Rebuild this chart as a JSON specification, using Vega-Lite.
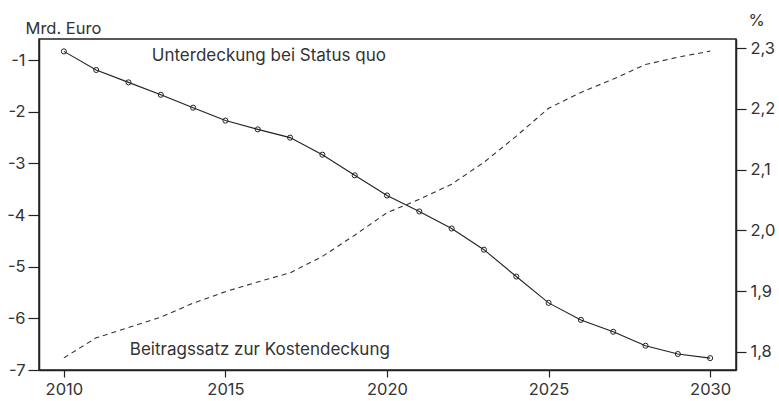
{
  "$schema": "https://vega.github.io/schema/vega-lite/v6.json",
  "autosize": "none",
  "padding": {"left": 39, "top": 39, "right": 43, "bottom": 31},
  "width": 697,
  "height": 331,
  "background": "white",
  "config": {
    "view": {"stroke": "#222", "strokeWidth": 1.5},
    "font": "Inter",
    "axis": {
      "grid": false,
      "domainColor": "#222",
      "domainWidth": 1.5,
      "tickColor": "#222",
      "tickWidth": 1.2,
      "labelColor": "#333",
      "labelFont": "Inter",
      "labelFontSize": 16.5,
      "titleFont": "Inter",
      "titleFontSize": 16.5,
      "titleFontWeight": "normal",
      "titleColor": "#333"
    }
  },
  "datasets": {
    "series": [
      {"year": 2010, "deficit": -0.83, "rate": 1.790},
      {"year": 2011, "deficit": -1.19, "rate": 1.823},
      {"year": 2012, "deficit": -1.43, "rate": 1.840},
      {"year": 2013, "deficit": -1.67, "rate": 1.857},
      {"year": 2014, "deficit": -1.92, "rate": 1.880},
      {"year": 2015, "deficit": -2.17, "rate": 1.899},
      {"year": 2016, "deficit": -2.34, "rate": 1.915},
      {"year": 2017, "deficit": -2.50, "rate": 1.930},
      {"year": 2018, "deficit": -2.83, "rate": 1.957},
      {"year": 2019, "deficit": -3.23, "rate": 1.992},
      {"year": 2020, "deficit": -3.62, "rate": 2.029},
      {"year": 2021, "deficit": -3.93, "rate": 2.051},
      {"year": 2022, "deficit": -4.26, "rate": 2.076},
      {"year": 2023, "deficit": -4.67, "rate": 2.112},
      {"year": 2024, "deficit": -5.19, "rate": 2.155},
      {"year": 2025, "deficit": -5.70, "rate": 2.201},
      {"year": 2026, "deficit": -6.03, "rate": 2.227},
      {"year": 2027, "deficit": -6.26, "rate": 2.249},
      {"year": 2028, "deficit": -6.53, "rate": 2.273},
      {"year": 2029, "deficit": -6.69, "rate": 2.285},
      {"year": 2030, "deficit": -6.77, "rate": 2.295}
    ],
    "labels": [
      {"year": 2012.72, "deficit": -0.92, "label": "Unterdeckung bei Status quo"},
      {"year": 2012.04, "deficit": -6.61, "label": "Beitragssatz zur Kostendeckung"}
    ]
  },
  "encoding": {
    "x": {
      "field": "year",
      "type": "quantitative",
      "scale": {"domain": [2009.23, 2030.8], "nice": false, "zero": false},
      "axis": {
        "title": null,
        "values": [2010, 2015, 2020, 2025, 2030],
        "format": "d",
        "tickSize": 7,
        "labelPadding": 4
      }
    }
  },
  "layer": [
    {
      "encoding": {
        "y": {
          "field": "deficit",
          "type": "quantitative",
          "scale": {"domain": [-7, -0.59], "nice": false, "zero": false},
          "axis": {
            "title": "Mrd. Euro",
            "titleAngle": 0,
            "titleX": -14,
            "titleY": -11,
            "titleAlign": "left",
            "titleBaseline": "middle",
            "values": [-7, -6, -5, -4, -3, -2, -1],
            "labelExpr": "'' + datum.value",
            "tickSize": 11,
            "labelPadding": 3
          }
        }
      },
      "layer": [
        {
          "data": {"name": "series"},
          "mark": {"type": "line", "color": "#222", "strokeWidth": 1.1}
        },
        {
          "data": {"name": "series"},
          "mark": {"type": "point", "filled": false, "color": "#222", "size": 26, "strokeWidth": 1, "opacity": 1}
        },
        {
          "data": {"name": "labels"},
          "mark": {"type": "text", "align": "left", "baseline": "middle", "fontSize": 17, "color": "#333", "font": "Inter"},
          "encoding": {"text": {"field": "label"}}
        }
      ]
    },
    {
      "data": {"name": "series"},
      "mark": {"type": "line", "color": "#333", "strokeWidth": 1.1, "strokeDash": [5, 4]},
      "encoding": {
        "y": {
          "field": "rate",
          "type": "quantitative",
          "scale": {"domain": [1.770, 2.315], "nice": false, "zero": false},
          "axis": {
            "orient": "right",
            "title": "%",
            "titleAngle": 0,
            "titleX": 20,
            "titleY": -19,
            "titleAlign": "center",
            "titleBaseline": "middle",
            "values": [1.8, 1.9, 2.0, 2.1, 2.2, 2.3],
            "labelExpr": "replace(format(datum.value, '.1f'), '.', ',')",
            "tickSize": 10,
            "labelPadding": 4
          }
        }
      }
    }
  ],
  "resolve": {"scale": {"y": "independent"}}
}
